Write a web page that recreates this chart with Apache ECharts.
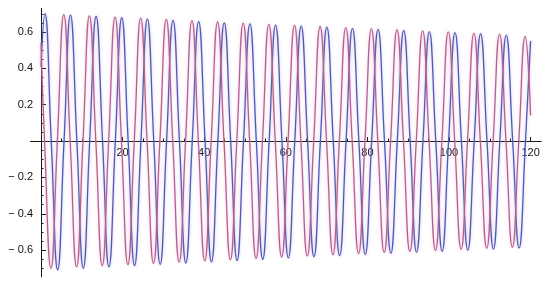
<!DOCTYPE html>
<html>
<head>
<meta charset="utf-8">
<script src="https://cdn.jsdelivr.net/npm/echarts@6/dist/echarts.min.js"></script>
<style>
  html, body { margin: 0; padding: 0; background: #fff; }
  #chart { width: 550px; height: 284px; }
</style>
</head>
<body>
<div id="chart"></div>
<script>
// values: extremes and zero crossings of each curve
const redT = [0, 0.87, 2.44, 4.01, 5.58, 7.15, 8.72, 10.29, 11.86, 13.44, 15.01, 16.58, 18.15,
  19.72, 21.29, 22.86, 24.43, 26.00, 27.57, 29.14, 30.71, 32.29, 33.86, 35.43, 37.00,
  38.57, 40.14, 41.71, 43.28, 44.85, 46.42, 47.99, 49.56, 51.14, 52.71, 54.28, 55.85,
  57.42, 58.99, 60.56, 62.13, 63.70, 65.27, 66.84, 68.41, 69.99, 71.56, 73.13, 74.70,
  76.27, 77.84, 79.41, 80.98, 82.55, 84.12, 85.69, 87.26, 88.84, 90.41, 91.98, 93.55,
  95.12, 96.69, 98.26, 99.83, 101.40, 102.97, 104.54, 106.11, 107.68, 109.25, 110.82, 112.39,
  113.97, 115.54, 117.11, 118.68, 120]
const redY = [0.54, 0, -0.700, 0, 0.695, 0, -0.692, 0, 0.688, 0, -0.686, 0, 0.682,
  0, -0.680, 0, 0.676, 0, -0.673, 0, 0.669, 0, -0.666, 0, 0.662,
  0, -0.659, 0, 0.655, 0, -0.652, 0, 0.648, 0, -0.645, 0, 0.642,
  0, -0.638, 0, 0.636, 0, -0.632, 0, 0.630, 0, -0.626, 0, 0.624,
  0, -0.620, 0, 0.618, 0, -0.614, 0, 0.612, 0, -0.608, 0, 0.606,
  0, -0.602, 0, 0.600, 0, -0.596, 0, 0.594, 0, -0.590, 0, 0.588,
  0, -0.584, 0, 0.575, 0.14]

const blueT = [0, 0.94, 2.51, 4.08, 5.65, 7.22, 8.79, 10.36, 11.93, 13.51, 15.08, 16.65, 18.22,
  19.79, 21.36, 22.93, 24.50, 26.07, 27.64, 29.21, 30.78, 32.36, 33.93, 35.50, 37.07,
  38.64, 40.21, 41.78, 43.35, 44.92, 46.49, 48.06, 49.63, 51.21, 52.78, 54.35, 55.92,
  57.49, 59.06, 60.63, 62.20, 63.77, 65.34, 66.91, 68.48, 70.06, 71.63, 73.20, 74.77,
  76.34, 77.91, 79.48, 81.05, 82.62, 84.19, 85.76, 87.33, 88.91, 90.48, 92.05, 93.62,
  95.19, 96.76, 98.33, 99.90, 101.47, 103.04, 104.61, 106.18, 107.75, 109.32, 110.89, 112.46,
  114.04, 115.61, 117.18, 118.75, 120]
const blueY = [0.41, 0.700, 0, -0.708, 0, 0.692, 0, -0.700, 0, 0.685, 0, -0.692, 0,
  0.678, 0, -0.685, 0, 0.671, 0, -0.678, 0, 0.664, 0, -0.671, 0,
  0.657, 0, -0.664, 0, 0.650, 0, -0.657, 0, 0.644, 0, -0.650, 0,
  0.638, 0, -0.643, 0, 0.632, 0, -0.636, 0, 0.626, 0, -0.630, 0,
  0.620, 0, -0.624, 0, 0.614, 0, -0.618, 0, 0.608, 0, -0.612, 0,
  0.602, 0, -0.606, 0, 0.596, 0, -0.600, 0, 0.590, 0, -0.594, 0,
  0.583, 0, -0.588, 0, 0.55]

const xMajor = [20, 40, 60, 80, 100, 120]
const xMinor = [5, 10, 15, 25, 30, 35, 45, 50, 55, 65, 70, 75, 85, 90, 95, 105, 110, 115]
const yMajor = [-0.6, -0.4, -0.2, 0.2, 0.4, 0.6]
const yMinor = [-0.7, -0.65, -0.55, -0.5, -0.45, -0.35, -0.3, -0.25, -0.15, -0.1, -0.05,
  0.05, 0.1, 0.15, 0.25, 0.3, 0.35, 0.45, 0.5, 0.55, 0.65, 0.7]

const X_MIN = -2.6, X_MAX = 122.6
const Y_MIN = -0.746, Y_MAX = 0.73

// plot box in pixels
const W = 550, H = 284
const box = { left: 30.4, right: 8.8, top: 8.3, bottom: 7.3 }
const plotW = W - box.left - box.right
const plotH = H - box.top - box.bottom

// axes cross at (0, 0): shift them in from the box edges
const xAxisShift = -(plotH * (0 - Y_MIN) / (Y_MAX - Y_MIN))
const yAxisShift = -(plotW * (0 - X_MIN) / (X_MAX - X_MIN))

const axisColor = '#1a1a1a'
const labelStyle = { fontFamily: 'Liberation Sans', fontSize: 11, color: '#111' }

function pairs (ts, ys) {
  return ts.map((t, i) => [t, ys[i]])
}

function xAx (ticks, len, withLine, withLabel) {
  return {
    type: 'value', min: X_MIN, max: X_MAX, position: 'bottom', offset: xAxisShift,
    axisLine: { show: withLine, onZero: false, lineStyle: { color: axisColor, width: 1 } },
    axisTick: { inside: true, length: len, customValues: ticks, lineStyle: { color: axisColor } },
    axisLabel: withLabel ? { ...labelStyle, margin: 6, customValues: ticks } : { show: false },
    splitLine: { show: false }
  }
}

function yAx (ticks, len, withLine, withLabel) {
  return {
    type: 'value', min: Y_MIN, max: Y_MAX, position: 'left', offset: yAxisShift,
    axisLine: { show: withLine, onZero: false, lineStyle: { color: axisColor, width: 1 } },
    axisTick: { inside: true, length: len, customValues: ticks, lineStyle: { color: axisColor } },
    axisLabel: withLabel
      ? {
          ...labelStyle,
          margin: 8,
          customValues: ticks,
          formatter: v => v < 0 ? '\u2212 ' + (-v).toFixed(1) : v.toFixed(1)
        }
      : { show: false },
    splitLine: { show: false }
  }
}

const chart = echarts.init(document.getElementById('chart'), null, { renderer: 'canvas' })

chart.setOption({
  animation: false,
  backgroundColor: '#fff',
  grid: { ...box, outerBoundsMode: 'none', containLabel: false },
  xAxis: [xAx(xMajor, 4, true, true), xAx(xMinor, 2.5, false, false)],
  yAxis: [yAx(yMajor, 5, true, true), yAx(yMinor, 2.5, false, false)],
  series: [
    {
      type: 'line',
      xAxisIndex: 0, yAxisIndex: 0,
      smooth: 0.5,
      showSymbol: false,
      lineStyle: { color: '#5656b4', width: 1.3, shadowColor: 'rgba(140,140,225,0.55)', shadowBlur: 3 },
      data: pairs(blueT, blueY)
    },
    {
      type: 'line',
      xAxisIndex: 0, yAxisIndex: 0,
      smooth: 0.5,
      showSymbol: false,
      lineStyle: { color: '#b85e90', width: 1.3, shadowColor: 'rgba(230,150,190,0.55)', shadowBlur: 3 },
      data: pairs(redT, redY)
    }
  ]
})
</script>
</body>
</html>
